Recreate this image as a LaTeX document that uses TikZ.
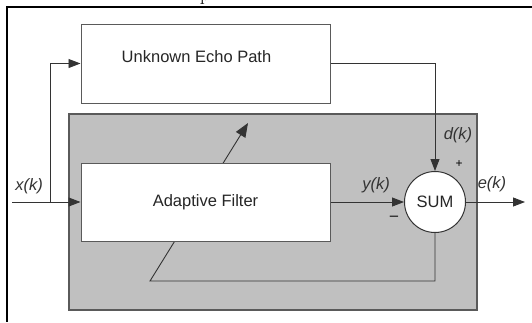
\documentclass[tikz,border=0pt]{standalone}
\usepackage{fontspec}
\setsansfont{Liberation Sans}
\usetikzlibrary{arrows.meta}
\definecolor{panelgrey}{HTML}{C0C0C0}
\definecolor{edgegrey}{HTML}{5A5A5A}
\definecolor{wiregrey}{HTML}{333333}
\tikzset{
  block/.style={draw=edgegrey, line width=1pt, fill=white, minimum width=249pt, minimum height=79pt, inner sep=0pt},
  summer/.style={circle, draw=wiregrey, line width=1pt, fill=white, minimum size=61pt, inner sep=0pt},
  sig/.style={font=\sffamily\itshape\fontsize{16.5}{18}\selectfont, text=wiregrey, inner sep=0pt},
  wire/.style={draw=wiregrey, line width=0.9pt},
  tip/.style={-{Triangle[length=12pt,width=9pt]}}
}
\begin{document}
\begin{tikzpicture}[x=1pt, y=-1pt, font=\sffamily\fontsize{16.5}{18}\selectfont]
      \useasboundingbox (0,0) rectangle (532,322);
      % cut-off text and frame
      \node[anchor=base, inner sep=0pt, font=\fontsize{20}{22}\selectfont] (ptop) at (205,0.6) {p};
      \draw[line width=1.2pt] (532,7) -- (7,7) -- (7,322);
      % grey panel
      \node[draw=edgegrey, line width=1.2pt, fill=panelgrey, minimum width=408pt, minimum height=196pt] (panel) at (273,212) {};
      % adaption path
      \draw[wire, -{Triangle[length=14pt,width=11pt]}] (435,233) -- (435,281) -- (150,281) -- (248,123);
      % blocks
      \draw
        (205.5,63.5) node[block] (echo){}
        (196.5,57) node[inner sep=0pt, text=black!85] (echotext){Unknown Echo Path}
        (205.5,202) node[block, minimum height=78pt, text=black!85] (filter){Adaptive Filter}
        (435,202) node[summer, text=black!85] (sum){SUM};
      \coordinate (in) at (12,202);
      \coordinate (split) at (50,202);
      \coordinate (out) at (525,202);
      % labels
      \draw
        (29,186) node[sig] (xk){x(k)}
        (376,185) node[sig] (yk){y(k)}
        (458,135) node[sig] (dk){d(k)}
        (492,184) node[sig] (ek){e(k)}
        (459,164) node[inner sep=0pt, font=\sffamily\fontsize{12}{12}\selectfont] (plus){+}
        (394,218) node[inner sep=0pt, font=\sffamily\fontsize{15}{15}\selectfont] (minus){\textendash};
      \begin{scope}[wire, tip]
        \draw (in) -- (filter.west);
        \draw (split) |- (echo.west);
        \draw (echo.east) -| (sum.north);
        \draw (filter.east) -- (sum.west);
        \draw (sum.east) -- (out);
      \end{scope}
    \end{tikzpicture}
\end{document}
